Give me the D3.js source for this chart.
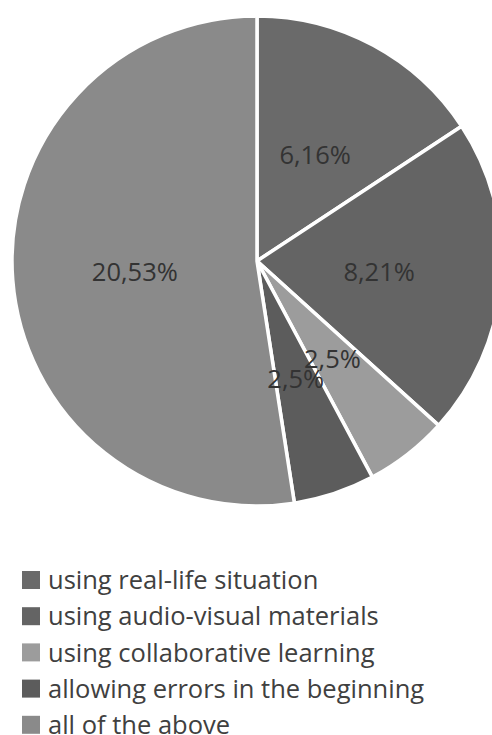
<!DOCTYPE html>
<html>
<head>
<meta charset="utf-8">
<script src="https://cdn.jsdelivr.net/npm/d3@7"></script>
<style>
  html, body { margin: 0; padding: 0; background: #ffffff; }
  svg { display: block; }
</style>
</head>
<body>
<div id="chart"></div>
<script>
// ---- data ----
const categories = [
  "using real-life situation",
  "using audio-visual materials",
  "using collaborative learning",
  "allowing errors in the beginning",
  "all of the above"
];
// slice sizes (angles)
const values = [6.16, 8.21, 2.15, 2.1, 20.53];
// data labels as printed on the chart
const valueLabels = ["6,16%", "8,21%", "2,5%", "2,5%", "20,53%"];
const colors = ["#6a6a6a", "#646464", "#9c9c9c", "#5c5c5c", "#8a8a8a"];

// ---- layout ----
const W = 492, H = 735;
const cx = 257, cy = 261, R = 245;

const svg = d3.select("#chart").append("svg")
  .attr("width", W).attr("height", H);

const data = categories.map((c, i) => ({ name: c, value: values[i], label: valueLabels[i], color: colors[i] }));

const pie = d3.pie().sort(null).value(d => d.value);
const arc = d3.arc().innerRadius(0).outerRadius(R);
const arcs = pie(data);

const g = svg.append("g").attr("transform", `translate(${cx},${cy})`);

g.selectAll("path.slice").data(arcs).enter().append("path")
  .attr("class", "slice")
  .attr("d", arc)
  .attr("fill", d => d.data.color)
  .attr("stroke", "#ffffff")
  .attr("stroke-width", 3.5)
  .attr("stroke-linejoin", "miter");

g.selectAll("text.lbl").data(arcs).enter().append("text")
  .attr("class", "lbl")
  .attr("transform", d => {
    const [x, y] = arc.centroid(d);
    return `translate(${x},${y})`;
  })
  .attr("text-anchor", "middle")
  .attr("dy", "0.42em")
  .attr("font-family", "'Open Sans', sans-serif")
  .attr("font-size", 25.5)
  .attr("fill", "#333333")
  .text(d => d.data.label);

// ---- legend ----
const legend = svg.append("g").attr("transform", "translate(22,571)");
const rowH = 36.2;
const item = legend.selectAll("g.item").data(data).enter().append("g")
  .attr("class", "item")
  .attr("transform", (d, i) => `translate(0,${i * rowH})`);

item.append("rect")
  .attr("x", 0).attr("y", 0)
  .attr("width", 18).attr("height", 18)
  .attr("fill", d => d.color);

item.append("text")
  .attr("x", 26).attr("y", 9)
  .attr("dy", "0.36em")
  .attr("font-family", "'Open Sans', sans-serif")
  .attr("font-size", 25.5)
  .attr("fill", "#404040")
  .text(d => d.name);
</script>
</body>
</html>
